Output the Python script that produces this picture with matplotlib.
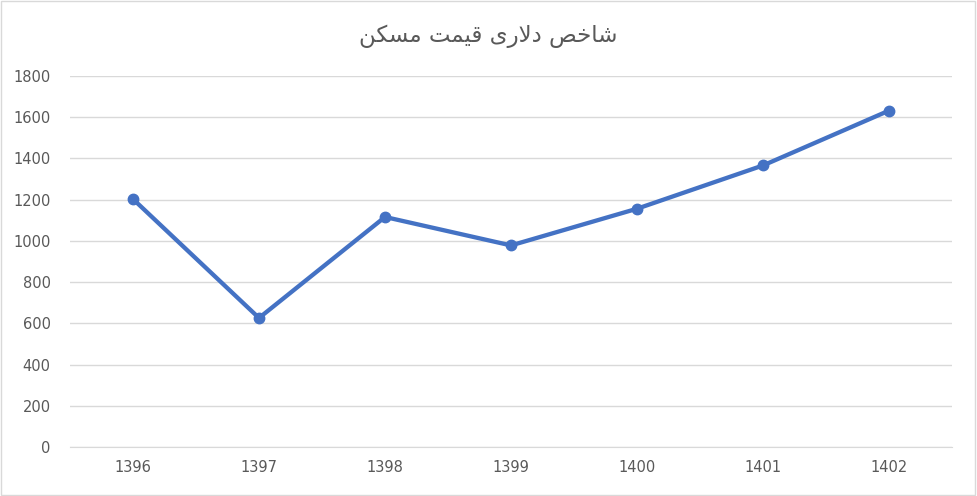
import matplotlib
matplotlib.use("Agg")
import matplotlib.pyplot as plt
from matplotlib.patches import Rectangle

years = ['1396', '1397', '1398', '1399', '1400', '1401', '1402']
index_values = [1203, 626, 1116, 978, 1156, 1366, 1632]
y_ticks = [0, 200, 400, 600, 800, 1000, 1200, 1400, 1600, 1800]
title = 'شاخص دلاری قیمت مسکن'

# presentation forms: (isolated, final, initial, medial)
FORMS = {
    'ا': ('\uFE8D', '\uFE8E'),
    'د': ('\uFEA9', '\uFEAA'),
    'ر': ('\uFEAD', '\uFEAE'),
    'خ': ('\uFEA5', '\uFEA6', '\uFEA7', '\uFEA8'),
    'ش': ('\uFEB5', '\uFEB6', '\uFEB7', '\uFEB8'),
    'ص': ('\uFEB9', '\uFEBA', '\uFEBB', '\uFEBC'),
    'س': ('\uFEB1', '\uFEB2', '\uFEB3', '\uFEB4'),
    'ق': ('\uFED5', '\uFED6', '\uFED7', '\uFED8'),
    'ل': ('\uFEDD', '\uFEDE', '\uFEDF', '\uFEE0'),
    'م': ('\uFEE1', '\uFEE2', '\uFEE3', '\uFEE4'),
    'ن': ('\uFEE5', '\uFEE6', '\uFEE7', '\uFEE8'),
    'ت': ('\uFE95', '\uFE96', '\uFE97', '\uFE98'),
    'ک': ('\uFB8E', '\uFB8F', '\uFB90', '\uFB91'),
    'ی': ('\uFBFC', '\uFBFD', '\uFBFE', '\uFBFF'),
}


def shape_rtl(text):
    """Join Persian letters and put them in visual (left-to-right) order."""
    out = []
    i = 0
    while i < len(text):
        c = text[i]
        if c not in FORMS:
            out.append(c)
            i += 1
            continue
        prev_joins = i > 0 and text[i - 1] in FORMS and len(FORMS[text[i - 1]]) == 4
        nxt = text[i + 1] if i + 1 < len(text) else ''
        if c == 'ل' and nxt == 'ا':
            out.append('\uFEFC' if prev_joins else '\uFEFB')
            i += 2
            continue
        next_joins = len(FORMS[c]) == 4 and nxt in FORMS
        if prev_joins and next_joins:
            out.append(FORMS[c][3])
        elif prev_joins:
            out.append(FORMS[c][1])
        elif next_joins:
            out.append(FORMS[c][2])
        else:
            out.append(FORMS[c][0])
        i += 1
    return ''.join(reversed(out))


fig = plt.figure(figsize=(9.77, 4.96), dpi=100)
ax = fig.add_axes([70 / 977, 1 - 447 / 496, 882 / 977, 371 / 496])

x = list(range(len(years)))
ax.plot(x, index_values, color='#4472C4', linewidth=3.1, marker='o',
        markersize=7.5, solid_capstyle='round', zorder=3)

ax.set_xlim(-0.5, len(years) - 0.5)
ax.set_ylim(0, 1800)
ax.set_yticks(y_ticks)
ax.set_xticks(x)
ax.set_xticklabels(years)
ax.grid(axis='y', color='#d9d9d9', linewidth=1)
ax.set_axisbelow(True)
for side in ['top', 'right', 'left']:
    ax.spines[side].set_visible(False)
ax.spines['bottom'].set_color('#d9d9d9')
ax.tick_params(length=0, labelsize=10.5, labelcolor='#595959')
ax.tick_params(axis='y', pad=14)
ax.tick_params(axis='x', pad=9)

fig.text(0.5, 1 - 36 / 496, shape_rtl(title), ha='center', va='center',
         fontsize=16.5, color='#595959', family=['DejaVu Sans'])

fig.patches.append(Rectangle((0.001, 0.002), 0.997, 0.996, transform=fig.transFigure,
                             fill=False, edgecolor='#d9d9d9', linewidth=1))

fig.savefig('out.png', dpi=100)
